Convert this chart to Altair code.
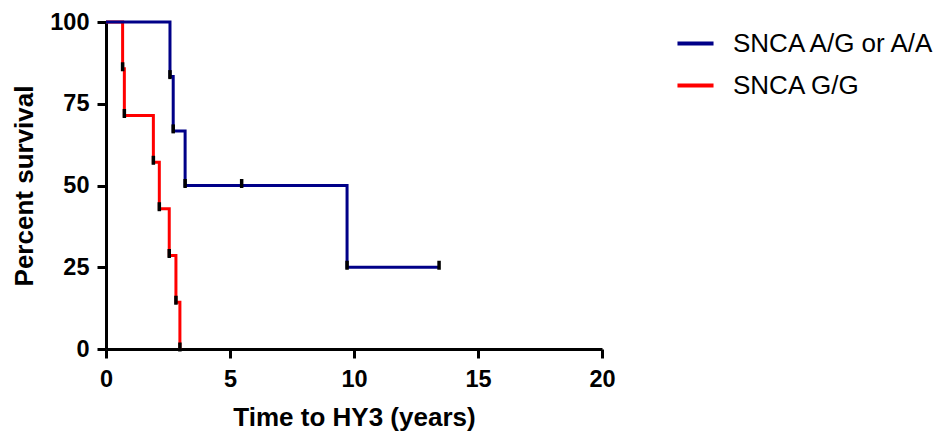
import altair as alt
import pandas as pd

# Kaplan-Meier data
group_ag = "SNCA A/G or A/A"
time_ag = [0, 2.58, 2.71, 3.19, 5.47, 9.72, 13.43]
surv_ag = [100, 83.3, 66.7, 50.0, 50.0, 25.0, 25.0]

group_gg = "SNCA G/G"
time_gg = [0, 0.67, 0.74, 1.91, 2.15, 2.55, 2.82, 2.98]
surv_gg = [100, 85.7, 71.4, 57.1, 42.9, 28.6, 14.3, 0.0]

groups = [group_ag, group_gg]
colors = ["#000088", "#FF0000"]

rows = []
for t, s in zip(time_ag, surv_ag):
    rows.append({"group": group_ag, "time": t, "surv": s})
for t, s in zip(time_gg, surv_gg):
    rows.append({"group": group_gg, "time": t, "surv": s})
df = pd.DataFrame(rows)

FONT = "Liberation Sans"

x_enc = alt.X("time:Q", scale=alt.Scale(domain=[0, 20], nice=False),
              axis=alt.Axis(title="Time to HY3 (years)", values=[0, 5, 10, 15, 20],
                            titlePadding=14, labelPadding=9, labelFlush=False))
y_enc = alt.Y("surv:Q", scale=alt.Scale(domain=[0, 100], nice=False),
              axis=alt.Axis(title="Percent survival", values=[0, 25, 50, 75, 100],
                            titlePadding=12, labelPadding=8, labelFlush=False))

color_enc = alt.Color("group:N", scale=alt.Scale(domain=groups, range=colors),
                      legend=alt.Legend(title=None, orient="none", legendX=569, legendY=1,
                                        symbolType="stroke", symbolStrokeWidth=4,
                                        symbolSize=1300, labelFontSize=26, labelFont=FONT,
                                        labelColor="black", labelOffset=17, rowPadding=8,
                                        padding=0, labelLimit=0))

base = alt.Chart(df)

line_gg = base.transform_filter(alt.datum.group == group_gg).mark_line(
    interpolate="step-after", strokeWidth=3
).encode(x=x_enc, y=y_enc, color=color_enc, order="time:Q")

line_ag = base.transform_filter(alt.datum.group == group_ag).mark_line(
    interpolate="step-after", strokeWidth=3
).encode(x="time:Q", y="surv:Q", color="group:N", order="time:Q")

ticks = base.transform_filter("datum.time > 0").mark_tick(
    orient="vertical", size=9, thickness=3.5, color="black", opacity=1, yOffset=-2
).encode(
    x="time:Q",
    y="surv:Q",
)

chart = alt.layer(line_gg, line_ag, ticks).properties(
    width=496,
    height=327,
    autosize=alt.AutoSizeParams(type="none"),
    padding={"left": 98, "top": 14, "right": 331, "bottom": 88},
).configure_view(stroke=None).configure_axis(
    grid=False,
    domainColor="black",
    domainWidth=3,
    tickColor="black",
    tickWidth=3,
    tickSize=9,
    labelFont=FONT,
    labelFontSize=23.5,
    labelFontWeight="bold",
    labelColor="black",
    titleFont=FONT,
    titleFontSize=26,
    titleFontWeight="bold",
    titleColor="black",
)

chart.save("out.html", embed_options={"renderer": "svg", "actions": False})
